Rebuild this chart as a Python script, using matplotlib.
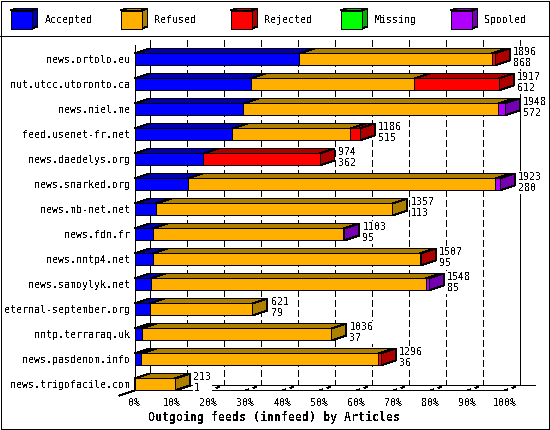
import matplotlib
matplotlib.use("Agg")
import matplotlib.pyplot as plt
from matplotlib.patches import Polygon, Rectangle

hosts = ["news.ortolo.eu", "nut.utcc.utoronto.ca", "news.niel.me", "feed.usenet-fr.net",
         "news.daedelys.org", "news.snarked.org", "news.mb-net.net", "news.fdn.fr",
         "news.nntp4.net", "news.samoylyk.net", "eternal-september.org", "nntp.terraraq.uk",
         "news.pasdenom.info", "news.trigofacile.com"]
accepted = [868, 612, 572, 515, 362, 280, 113, 95, 95, 85, 79, 37, 36, 1]
refused = [1014, 861, 1343, 621, 0, 1620, 1244, 1005, 1408, 1448, 542, 999, 1248, 212]
rejected = [14, 444, 0, 50, 612, 0, 0, 0, 4, 0, 0, 0, 12, 0]
missing = [0] * 14
spooled = [0, 0, 33, 0, 0, 23, 0, 3, 0, 15, 0, 0, 0, 0]
totals = [1896, 1917, 1948, 1186, 974, 1923, 1357, 1103, 1507, 1548, 621, 1036, 1296, 213]
series_names = ["Accepted", "Refused", "Rejected", "Missing", "Spooled"]
series_values = [accepted, refused, rejected, missing, spooled]
front_colors = ["#0000FF", "#FFAF00", "#FF0000", "#00FF00", "#AF00FF"]
dark_colors = ["#0000AF", "#AF7F00", "#AF0000", "#00AF00", "#7500AF"]
pct_ticks = list(range(0, 101, 10))
axis_title = "Outgoing feeds (innfeed) by Articles"

W, H = 550, 430
plt.rcParams["text.antialiased"] = False
plt.rcParams["font.family"] = "DejaVu Sans Mono"
fig = plt.figure(figsize=(W / 100, H / 100), dpi=100, facecolor="white")
LW = 0.72

# page furniture in pixel coordinates
ov = fig.add_axes([0, 0, 1, 1], zorder=0)
ov.set_xlim(0, W)
ov.set_ylim(H, 0)
ov.axis("off")
ov.add_patch(Rectangle((0.5, 0.5), W - 1.5, H - 1.5, fc="none", ec="black", lw=LW, antialiased=False))
ov.plot([0, W], [35.5, 35.5], color="black", lw=LW, antialiased=False)
for i, (name, fc, dc) in enumerate(zip(series_names, front_colors, dark_colors)):
    x0 = 10.5 + 110 * i
    ov.add_patch(Polygon([(x0, 10.5), (x0 + 6, 8.5), (x0 + 27, 8.5), (x0 + 21, 10.5)], fc=dc, ec="black", lw=LW, antialiased=False))
    ov.add_patch(Polygon([(x0 + 21, 10.5), (x0 + 27, 8.5), (x0 + 27, 26.5), (x0 + 21, 28.5)], fc=dc, ec="black", lw=LW, antialiased=False))
    ov.add_patch(Rectangle((x0, 10.5), 21, 18, fc=fc, ec="black", lw=LW, antialiased=False))
    ov.text(x0 + 34, 20, name, fontsize=7.2, ha="left", va="center", color="black")

# chart: x in percent of the largest total, y in rows
ax = fig.add_axes([134.5 / W, 1 - 390.5 / H, 370 / W, 355 / H], zorder=1)
ax.patch.set_alpha(0)
ax.set_xlim(0, 100)
ax.set_ylim(13.24, -0.96)
for s in ax.spines.values():
    s.set_visible(False)
DX = 15 / 3.7      # depth in percent
DY = -5 / 25       # depth in rows
BH = 0.24
TOP = -0.76
FLOOR = 13.04
dash = (0, (6.0, 3.6))
kw = dict(color="black", lw=LW, antialiased=False, clip_on=False, zorder=1)

ax.plot([0, 0], [-0.56, 13.24], **kw)
ax.plot([DX, DX], [TOP, FLOOR], **kw)
ax.plot([100 + DX, 100 + DX], [TOP, FLOOR], **kw)
ax.plot([0, 100], [13.24, 13.24], **kw)
ax.plot([0, 100 + 2 * DX], [FLOOR, FLOOR], **kw)
ax.plot([-DX, 0], [13.24 - DY, 13.24], **kw)
for p in pct_ticks[1:-1]:
    ax.plot([p + DX, p + DX], [TOP, FLOOR], linestyle=dash, **kw)
for p in pct_ticks[1:]:
    ax.plot([p, p + DX], [13.24, FLOOR], linestyle=(0, (3.0, 5.0)), **kw)

maxtotal = max(totals)
for r, host in enumerate(hosts):
    left = 0.0
    for vals, fc, dc in zip(series_values, front_colors, dark_colors):
        v = vals[r]
        if v <= 0:
            continue
        w = v / maxtotal * 100
        y0, y1 = r - BH, r + BH
        pk = dict(ec="black", lw=LW, antialiased=False, clip_on=False, zorder=3)
        ax.add_patch(Polygon([(left, y0), (left + DX, y0 + DY), (left + w + DX, y0 + DY), (left + w, y0)], fc=dc, **pk))
        ax.add_patch(Polygon([(left + w, y0), (left + w + DX, y0 + DY), (left + w + DX, y1 + DY), (left + w, y1)], fc=dc, **pk))
        ax.add_patch(Rectangle((left, y0), w, y1 - y0, fc=fc, **pk))
        left += w
    ax.annotate(f"{totals[r]}\n{accepted[r]}", xy=(left + DX, r), xytext=(2.5, 1.5),
                textcoords="offset points", fontsize=7.2, ha="left", va="center",
                linespacing=1.1, color="black", zorder=4, annotation_clip=False,
                bbox=dict(fc="white", ec="none", pad=0.5))

ax.set_yticks(range(len(hosts)), hosts, fontsize=7.2)
ax.set_xticks(pct_ticks, [f"{p}%" for p in pct_ticks], fontsize=7.2)
ax.tick_params(axis="both", length=0)
ax.tick_params(axis="y", pad=3)
ax.tick_params(axis="x", pad=5.3)
fig.text(274 / W, 1 - 417 / H, axis_title, fontsize=8.4, fontweight="bold", ha="center", va="center")
fig.savefig("out.png", dpi=100, facecolor="white")
